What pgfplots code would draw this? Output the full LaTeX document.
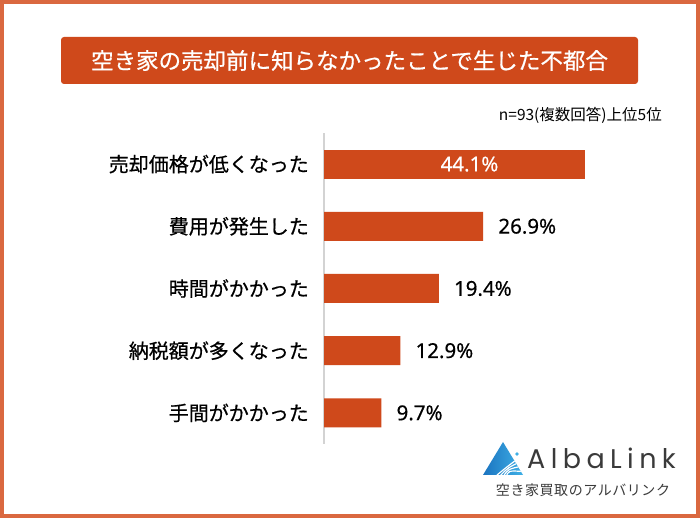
\documentclass[border=0pt]{standalone}
\usepackage{pgfplots}
\pgfplotsset{compat=1.18}
\usepackage{fontspec}
\setmainfont{Noto Sans}
\newfontfamily\jp[FakeBold=0.6]{Noto Sans CJK JP}
\newfontfamily\jpn{Noto Sans CJK JP}
\newfontfamily\logofont[LetterSpace=20]{Poppins}
\newfontfamily\jpsp[LetterSpace=4]{Noto Sans CJK JP}
\newfontfamily\num[FakeBold=0.4]{Noto Sans}
\definecolor{frame}{HTML}{DA6840}
\definecolor{bar}{HTML}{CF491B}
\definecolor{axisgray}{HTML}{D3D3D3}
\definecolor{logotext}{HTML}{3A3A3A}
\definecolor{logoblue}{HTML}{1B74C0}
\definecolor{logolight}{HTML}{3FB0E6}
\begin{document}
\begin{tikzpicture}[x=1pt,y=1pt]
\useasboundingbox (0,0) rectangle (700,518);
\fill[white] (0,0) rectangle (700,518);
\draw[frame, line width=4pt] (2,2) rectangle (698,516);
% title
\fill[bar, rounded corners=3pt] (61,434) rectangle (638,481);
\node[white, inner sep=0pt] at (349.5,457.5) {\jp\fontsize{22.5}{26}\selectfont 空き家の売却前に知らなかったことで生じた不都合};
\node[anchor=east, inner sep=0pt] at (662,403) {\jpn\fontsize{15.5}{18}\selectfont n=93(複数回答)上位5位};
% chart
\begin{axis}[
  at={(324pt,74pt)}, anchor=south west,
  scale only axis, width=295.9pt, height=311pt,
  xmin=0, xmax=50, ymin=-0.5, ymax=4.5,
  xbar, bar width=29pt, bar shift=0pt,
  hide x axis,
  axis y line*=left,
  y axis line style={draw=axisgray, line width=2pt, -},
  ytick={0,1,2,3,4},
  yticklabels={手間がかかった,納税額が多くなった,時間がかかった,費用が発生した,売却価格が低くなった},
  ytick style={draw=none},
  major tick length=0pt,
  yticklabel style={font=\jp\fontsize{20}{24}\selectfont, anchor=east, inner sep=0pt, xshift=-15pt},
  /pgf/number format/assume math mode=true,
  nodes near coords={\pgfmathprintnumber[fixed,precision=1,fixed zerofill]{\pgfplotspointmeta}\%},
  nodes near coords style={font=\num\fontsize{20.5}{24}\selectfont, inner sep=0pt, anchor=west, xshift=15pt, black},
  clip=false,
]
\addplot[fill=bar, draw=none] coordinates {(9.7,0) (12.9,1) (19.4,2) (26.9,3)};
\addplot[fill=bar, draw=none, nodes near coords style={white, anchor=center, xshift=-130.5pt}] coordinates {(44.1,4)};
\end{axis}
% logo
\shade[left color=logoblue, right color=logolight] (503,76) -- (483,43) -- (523,43) -- cycle;
\begin{scope}
\clip (503,76) -- (483,43) -- (523,43) -- cycle;
\foreach \d in {0,5,10,15} {
  \draw[white, line width=1.2pt] (497+\d*0.6,43-\d*0.2) .. controls (508,52-\d*0.3) .. (523,63-\d*1.1);
}
\end{scope}
\fill[logolight] (517,64) circle (1.8);
\node[anchor=base west, inner sep=0pt, text=logotext] at (527,49) {\logofont\fontsize{27}{30}\selectfont AlbaLink};
\node[inner sep=0pt, text=logotext] at (583,28) {\jpsp\fontsize{14}{17}\selectfont 空き家買取のアルバリンク};
\end{tikzpicture}
\end{document}
